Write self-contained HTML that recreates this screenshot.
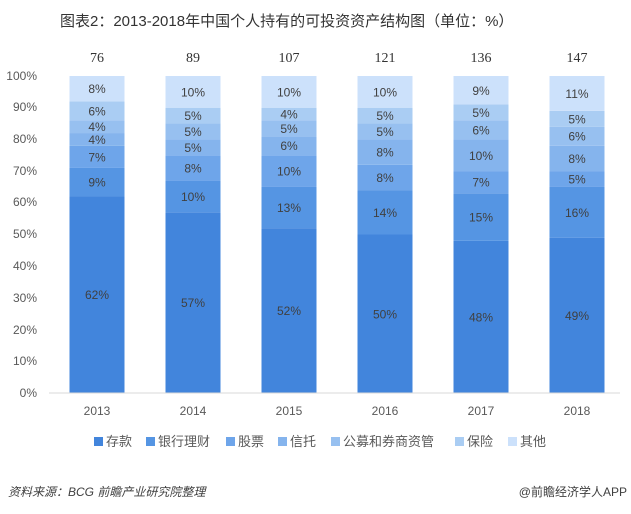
<!DOCTYPE html><html><head><meta charset="utf-8"><style>
body{margin:0;background:#fff;width:631px;height:509px;overflow:hidden;font-family:"Liberation Sans","Noto Sans CJK SC",sans-serif;}
</style></head><body>
<svg width="631" height="509" xmlns="http://www.w3.org/2000/svg" font-family="Liberation Sans, Noto Sans CJK SC, sans-serif">
<text x="60" y="26" font-size="15" fill="#333">图表2：2013-2018年中国个人持有的可投资资产结构图（单位：%）</text>
<g id="c"></g>
<line x1="49" y1="393" x2="620" y2="393" stroke="#d9d9d9"/>
<g font-size="12" fill="#595959" text-anchor="end">
<text x="37" y="397">0%</text><text x="37" y="365">10%</text><text x="37" y="334">20%</text><text x="37" y="302">30%</text><text x="37" y="270">40%</text><text x="37" y="238">50%</text><text x="37" y="206">60%</text><text x="37" y="175">70%</text><text x="37" y="143">80%</text><text x="37" y="111">90%</text><text x="37" y="80">100%</text>
</g>
<g font-size="12" fill="#595959" text-anchor="middle">
<text x="97" y="415">2013</text><text x="193" y="415">2014</text><text x="289" y="415">2015</text><text x="385" y="415">2016</text><text x="481" y="415">2017</text><text x="577" y="415">2018</text>
</g>
<g font-size="14" fill="#333" text-anchor="middle" font-family="Liberation Serif, serif">
<text x="97" y="62">76</text><text x="193" y="62">89</text><text x="289" y="62">107</text><text x="385" y="62">121</text><text x="481" y="62">136</text><text x="577" y="62">147</text>
</g>
<g font-size="13" fill="#595959">
<rect x="94" y="437" width="9" height="9" fill="#4285dc"/><text x="106" y="446">存款</text>
<rect x="146" y="437" width="9" height="9" fill="#5595e3"/><text x="158" y="446">银行理财</text>
<rect x="226" y="437" width="9" height="9" fill="#6ea5ea"/><text x="238" y="446">股票</text>
<rect x="278" y="437" width="9" height="9" fill="#85b4ed"/><text x="290" y="446">信托</text>
<rect x="331" y="437" width="9" height="9" fill="#97c0f0"/><text x="343" y="446">公募和券商资管</text>
<rect x="455" y="437" width="9" height="9" fill="#aacdf3"/><text x="467" y="446">保险</text>
<rect x="508" y="437" width="9" height="9" fill="#cce1fb"/><text x="520" y="446">其他</text>
</g>
<text x="8" y="496" font-size="12" fill="#404040" font-style="italic">资料来源：BCG 前瞻产业研究院整理</text>
<text x="627" y="496" font-size="12" fill="#404040" text-anchor="end">@前瞻经济学人APP</text>
</svg>
<script>
var d=[[62,9,7,4,4,6,8],[57,10,8,5,5,5,10],[52,13,10,6,5,4,10],[50,14,8,8,5,5,10],[48,15,7,10,6,5,9],[49,16,5,8,6,5,11]];
var col=["#4285dc","#5595e3","#6ea5ea","#85b4ed","#97c0f0","#aacdf3","#cce1fb"];
var g=document.getElementById("c"),s="",k=3.17,b=393;
for(var i=0;i<6;i++){var cx=97+96*i,y=b;for(var j=0;j<7;j++){var h=d[i][j]*k;y-=h;
s+='<rect x="'+(cx-27.5)+'" y="'+y+'" width="55" height="'+h+'" fill="'+col[j]+'"/>';
s+='<text x="'+cx+'" y="'+(y+h/2+4.5)+'" font-size="12" fill="#404040" text-anchor="middle">'+d[i][j]+'%</text>';}}
g.innerHTML=s;
</script>
</body></html>
